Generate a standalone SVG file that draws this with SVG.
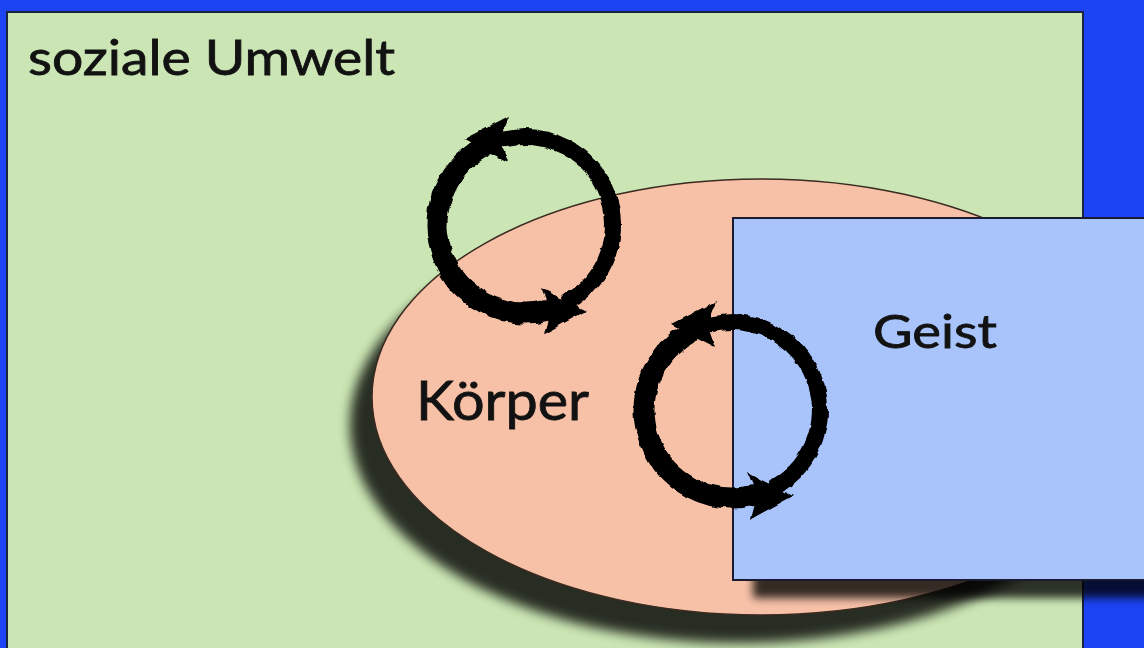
<svg xmlns="http://www.w3.org/2000/svg" width="1144" height="648" viewBox="0 0 1144 648">
  <style>
    .lbl { font-family: Lato, "Open Sans", "Liberation Sans", sans-serif; fill: #121212; stroke: #121212; stroke-width: 0.8; }
    .brushA { fill: none; stroke: #000; stroke-width: 16; stroke-linecap: round; }
    .brushB { fill: none; stroke: #000; stroke-width: 21; stroke-linecap: round; }
    .head { fill: #000; }
  </style>
  <defs>
    <filter id="blur6" x="-20%" y="-20%" width="140%" height="140%">
      <feGaussianBlur stdDeviation="6"/>
    </filter>
    <filter id="blur4" x="-20%" y="-20%" width="140%" height="140%">
      <feGaussianBlur stdDeviation="4"/>
    </filter>
    <filter id="rough" x="-20%" y="-20%" width="140%" height="140%">
      <feTurbulence type="fractalNoise" baseFrequency="0.09" numOctaves="2" seed="4" result="n"/>
      <feDisplacementMap in="SourceGraphic" in2="n" scale="5" xChannelSelector="R" yChannelSelector="G"/>
    </filter>
    <g id="cycle">
      <path class="brushA" d="M 44 76.2 A 88 88 0 0 0 -19.8 -85.7"/>
      <path class="brushB" d="M -44 -76.2 A 88 88 0 0 0 19.8 85.7"/>
      <polygon class="head" points="-61,-86 -16,-109 -25,-86 -17,-63"/>
      <polygon class="head" points="61,86 16,63 25,86 19,109"/>
    </g>
  </defs>

  <rect x="0" y="0" width="1144" height="648" fill="#1c44f4"/>

  <g id="soziale-umwelt">
    <rect x="7" y="12" width="1076" height="700" fill="#cbe6b4" stroke="#1b2440" stroke-width="2"/>
    <text class="lbl" x="28" y="75" font-size="48" textLength="367" lengthAdjust="spacingAndGlyphs">soziale Umwelt</text>
  </g>

  <g id="koerper">
    <ellipse cx="739" cy="425" rx="389" ry="218" fill="#000" opacity="0.8" filter="url(#blur6)"/>
    <ellipse cx="761" cy="397" rx="389" ry="218" fill="#f6c1a7" stroke="#3a2a20" stroke-width="1.5"/>
    <text class="lbl" x="416" y="420" font-size="55" textLength="173" lengthAdjust="spacingAndGlyphs">Körper</text>
  </g>

  <g id="geist">
    <rect x="753" y="236" width="420" height="362" fill="#000" opacity="0.78" filter="url(#blur4)"/>
    <rect x="733" y="218" width="440" height="362" fill="#a8c4fa" stroke="#1a1a30" stroke-width="2"/>
    <text class="lbl" x="873" y="348" font-size="46" textLength="124" lengthAdjust="spacingAndGlyphs">Geist</text>
  </g>

  <g id="connectors" filter="url(#rough)">
    <use href="#cycle" transform="translate(525,225)"/>
    <use href="#cycle" transform="translate(732,410)"/>
  </g>
</svg>
